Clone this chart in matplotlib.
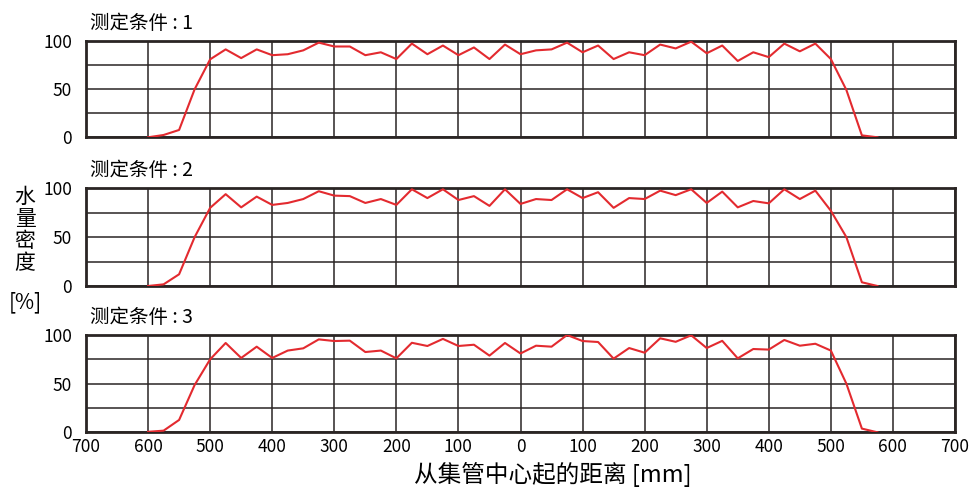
import matplotlib.pyplot as plt
from matplotlib.ticker import FuncFormatter, MultipleLocator

plt.rcParams['font.family'] = ['Noto Sans CJK SC', 'DejaVu Sans']

# distance from header centre (mm), one point every 25 mm
distance = list(range(-600, 600, 25))

density_1 = [0, 2.4, 7.6, 49.7, 80.7, 91, 82, 91, 85, 86, 90, 98, 94, 94, 85, 88,
             81, 97, 86, 95, 85, 93, 81, 96, 86, 90, 91, 98, 88, 95, 81, 88, 85,
             96, 92, 99, 87, 95, 79, 88, 83, 97, 89, 97, 81, 49, 2, 0]
density_2 = [0, 1.7, 12, 50, 80, 94, 80.5, 91.5, 83, 85, 89, 97, 92.5, 92, 85, 89,
             83, 99, 90, 99, 88, 92, 82, 99, 84, 89, 88, 99, 90, 96, 80, 90, 89,
             97.6, 93, 99, 85, 96.6, 80.5, 87, 84.6, 99, 89, 97.6, 77, 50, 3.8, 0]
density_3 = [0.5, 1.7, 12.7, 48.6, 75, 91.8, 76.4, 88, 76.4, 84, 86.3, 95.5, 93.8,
             94.2, 82.5, 84, 76, 92, 88.7, 96, 88.7, 90, 78.8, 91.8, 81, 89, 88,
             100, 93.8, 92.8, 75.7, 86.6, 81.8, 96.6, 93, 99.7, 86.6, 94, 76, 85.6,
             85, 94.9, 89, 91, 84, 50, 3.8, 0]

series = [density_1, density_2, density_3]
titles = ['测定条件 : 1', '测定条件 : 2', '测定条件 : 3']

W, H = 971, 488
# pixel boxes of the three panels: (top, bottom)
panels = [(40.7, 137.3), (188.3, 286), (335, 432.3)]
left, right = 86, 955

fig = plt.figure(figsize=(W / 100, H / 100), dpi=100)

for i, (top, bottom) in enumerate(panels):
    ax = fig.add_axes([left / W, 1 - bottom / H, (right - left) / W, (bottom - top) / H])
    ax.plot(distance, series[i], color='#e32a2f', lw=1.5, zorder=3)
    ax.set_xlim(-700, 700)
    ax.set_ylim(0, 100)
    ax.xaxis.set_major_locator(MultipleLocator(100))
    ax.grid(True, color='#2a2524', lw=1.1)
    ax.set_yticks([0, 25, 50, 75, 100])
    ax.set_yticklabels(['0', '', '50', '', '100'])
    ax.tick_params(length=0, labelsize=12.5, pad=10)
    for s in ax.spines.values():
        s.set_linewidth(2)
        s.set_color('#2a2524')
    if i < 2:
        ax.tick_params(labelbottom=False)
    else:
        ax.xaxis.set_major_formatter(FuncFormatter(lambda v, p: f'{abs(int(v))}'))
        ax.tick_params(axis='x', pad=4)
    fig.text(90 / W, 1 - (top - 7) / H, titles[i], fontsize=14, ha='left', va='bottom')

fig.text(25 / W, 1 - 230 / H, '水\n量\n密\n度', fontsize=15, ha='center', va='center',
         linespacing=1.0)
fig.text(25 / W, 1 - 302 / H, '[%]', fontsize=15, ha='center', va='center')
fig.text(553 / W, 1 - 474 / H, '从集管中心起的距离 [mm]', fontsize=17, ha='center', va='center')

fig.savefig('out.png', dpi=100)
